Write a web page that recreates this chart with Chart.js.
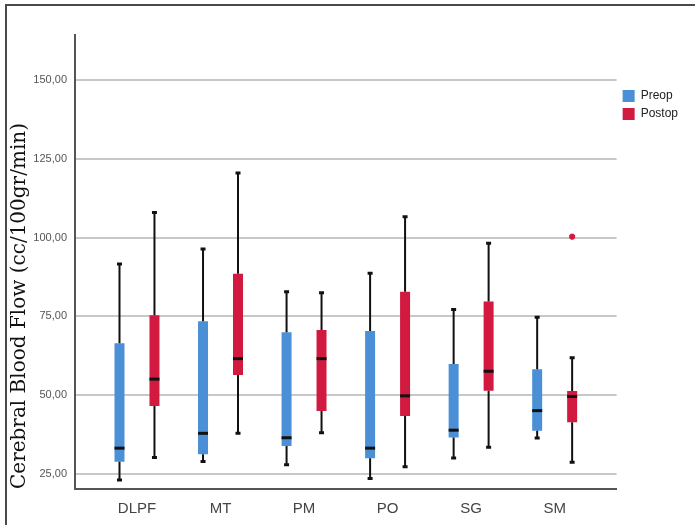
<!DOCTYPE html>
<html>
<head>
<meta charset="utf-8">
<script src="https://cdn.jsdelivr.net/npm/chart.js@4"></script>
<style>
    body { margin: 0; background: #fff; }
    #contenedor { position: relative; width: 695px; height: 525px; overflow: hidden; }
    #marco { position: absolute; left: 5px; top: 4px; width: 700px; height: 530px;
             border-top: 2px solid #4a4a4a; border-left: 2px solid #4a4a4a; pointer-events: none; }
    canvas { position: absolute; left: 0; top: 0; }
</style>
</head>
<body>
<div id="contenedor">
    <canvas id="chartFlujoCerebral" width="695" height="525"></canvas>
    <div id="marco"></div>
</div>
<script>
// Regiones
const categorias = ['DLPF', 'MT', 'PM', 'PO', 'SG', 'SM'];

// Preop (min, Q1, mediana, Q3, max)
const preopMin     = [23.1, 29.0, 27.9, 23.6, 30.1, 36.4];
const preopQ1      = [28.9, 31.3, 33.9, 30.0, 36.6, 38.7];
const preopMediana = [33.2, 37.9, 36.5, 33.2, 38.9, 45.1];
const preopQ3      = [66.5, 73.5, 70.0, 70.4, 59.9, 58.2];
const preopMax     = [91.6, 96.4, 82.8, 88.7, 77.2, 74.7];

// Postop
const postopMin     = [30.2, 37.9, 38.1, 27.3, 33.5, 28.7];
const postopQ1      = [46.6, 56.4, 45.0, 43.4, 51.4, 41.4];
const postopMediana = [55.1, 61.6, 61.6, 49.8, 57.6, 49.6];
const postopQ3      = [75.4, 88.5, 70.7, 82.8, 79.7, 51.3];
const postopMax     = [108.0, 120.5, 82.5, 106.6, 98.2, 61.9];

// Valores extremos (indice de categoria, valor)
const postopExtremosCat = [5];
const postopExtremosVal = [100.3];

// Ticks del eje Y
const ticksY = [25, 50, 75, 100, 125, 150];

const colorPreop = '#4b8fd6';
const colorPostop = '#d2193f';

const series = [
    { min: preopMin, q1: preopQ1, med: preopMediana, q3: preopQ3, max: preopMax, extCat: [], extVal: [], color: colorPreop },
    { min: postopMin, q1: postopQ1, med: postopMediana, q3: postopQ3, max: postopMax, extCat: postopExtremosCat, extVal: postopExtremosVal, color: colorPostop }
];

// Bigotes, medianas y extremos dibujados sobre las cajas
const cajasPlugin = {
    id: 'cajas',
    afterDatasetsDraw(chart) {
        const ctx = chart.ctx;
        const escalaY = chart.scales.y;
        ctx.save();
        series.forEach((s, di) => {
            const meta = chart.getDatasetMeta(di);
            meta.data.forEach((barra, i) => {
                const x = barra.x;
                const w = barra.width;
                const yMin = escalaY.getPixelForValue(s.min[i]);
                const yQ1 = escalaY.getPixelForValue(s.q1[i]);
                const yQ3 = escalaY.getPixelForValue(s.q3[i]);
                const yMax = escalaY.getPixelForValue(s.max[i]);
                const yMed = escalaY.getPixelForValue(s.med[i]);

                // bigotes
                ctx.strokeStyle = '#111';
                ctx.lineWidth = 2;
                ctx.beginPath();
                ctx.moveTo(x, yQ3); ctx.lineTo(x, yMax);
                ctx.moveTo(x, yQ1); ctx.lineTo(x, yMin);
                ctx.stroke();

                // remates
                ctx.lineWidth = 3;
                ctx.beginPath();
                ctx.moveTo(x - 2.5, yMax); ctx.lineTo(x + 2.5, yMax);
                ctx.moveTo(x - 2.5, yMin); ctx.lineTo(x + 2.5, yMin);
                ctx.stroke();

                // mediana
                ctx.lineWidth = 3;
                ctx.beginPath();
                ctx.moveTo(x - w / 2, yMed); ctx.lineTo(x + w / 2, yMed);
                ctx.stroke();
            });
            // extremos
            ctx.strokeStyle = s.color;
            ctx.fillStyle = s.color;
            s.extCat.forEach((c, k) => {
                const barra = meta.data[c];
                Chart.helpers.drawPoint(ctx, {
                    pointStyle: 'star', radius: 3, rotation: 0, borderWidth: 1.5
                }, barra.x, escalaY.getPixelForValue(s.extVal[k]));
            });
        });
        ctx.restore();
    }
};

const ctx = document.getElementById('chartFlujoCerebral').getContext('2d');
Chart.defaults.font.family = '"Liberation Sans", Arial, sans-serif';

window.graficaFlujo = new Chart(ctx, {
    type: 'bar',
    data: {
        datasets: [{
            label: 'Preop',
            data: categorias.map((c, i) => ({ x: i, y: [preopQ1[i], preopQ3[i]] })),
            backgroundColor: colorPreop,
            borderWidth: 0
        }, {
            label: 'Postop',
            data: categorias.map((c, i) => ({ x: i, y: [postopQ1[i], postopQ3[i]] })),
            backgroundColor: colorPostop,
            borderWidth: 0
        }]
    },
    options: {
        responsive: false,
        animation: false,
        devicePixelRatio: 1,
        categoryPercentage: 0.8373,
        barPercentage: 0.2857,
        layout: {
            padding: { top: 35, right: 7, bottom: 0, left: 0 }
        },
        scales: {
            x: {
                type: 'linear',
                offset: false,
                min: -0.742,
                max: 5.742,
                afterFit: (escala) => { escala.height = 36; },
                grid: { display: false, offset: false },
                border: { display: true, color: '#555', width: 2 },
                ticks: {
                    stepSize: 1,
                    includeBounds: false,
                    autoSkip: false,
                    maxRotation: 0,
                    padding: 3,
                    color: '#444',
                    font: { size: 15 },
                    callback: (v) => categorias[v] ?? ''
                }
            },
            y: {
                min: 20.24,
                max: 164.28,
                afterFit: (escala) => { escala.width = 75; },
                afterBuildTicks: (escala) => { escala.ticks = ticksY.map(v => ({ value: v })); },
                grid: { color: '#c8c8c8', lineWidth: 2, drawTicks: false },
                border: { display: true, color: '#555', width: 2 },
                ticks: {
                    padding: 8,
                    color: '#555',
                    font: { size: 11 },
                    callback: (v) => v.toFixed(2).replace('.', ',')
                },
                title: {
                    display: true,
                    text: 'Cerebral Blood Flow (cc/100gr/min)',
                    align: 'start',
                    color: '#111',
                    font: { family: '"DejaVu Serif", "Liberation Serif", serif', size: 20 },
                    padding: { top: 8 }
                }
            }
        },
        plugins: {
            legend: {
                position: 'right',
                align: 'start',
                title: {
                    display: true,
                    text: ' ',
                    font: { size: 1, lineHeight: 1 },
                    padding: { top: 48, bottom: 0 }
                },
                labels: {
                    boxWidth: 12,
                    boxHeight: 12,
                    padding: 6,
                    color: '#222',
                    font: { size: 12 }
                }
            },
            tooltip: { enabled: false }
        }
    },
    plugins: [cajasPlugin]
});
</script>
</body>
</html>
